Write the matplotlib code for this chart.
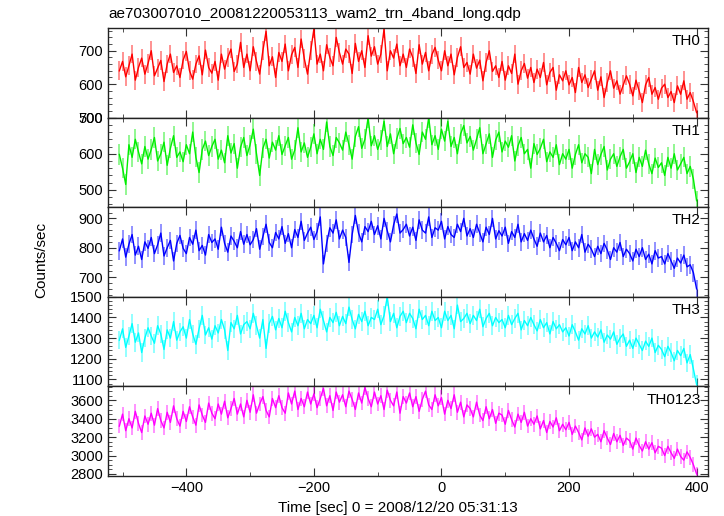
import matplotlib
matplotlib.use("Agg")
import matplotlib.pyplot as plt
from matplotlib.ticker import MultipleLocator
import numpy as np

plt.rcParams['font.family'] = ['Liberation Sans', 'DejaVu Sans']

# light curve, 5 s bins from -505 s to 400 s
time = np.arange(-505, 401, 5)

th0 = [640, 668, 622, 655, 690, 612, 650, 678, 630, 662,
       700, 625, 648, 671, 608, 660, 690, 635, 655, 620,
       672, 698, 640, 615, 660, 685, 628, 702, 650, 633,
       668, 612, 690, 645, 680, 705, 638, 660, 725, 650,
       690, 640, 712, 668, 630, 700, 758, 655, 682, 620,
       695, 668, 720, 640, 688, 710, 650, 735, 676, 630,
       700, 765, 660, 690, 640, 718, 680, 655, 740, 695,
       660, 705, 690, 632, 722, 668, 700, 650, 745, 684,
       712, 660, 690, 765, 640, 700, 678, 720, 655, 690,
       650, 705, 680, 632, 718, 660, 695, 640, 688, 710,
       672, 640, 700, 655, 690, 628, 680, 712, 650, 665,
       630, 690, 648, 672, 610, 665, 700, 638, 655, 620,
       668, 612, 655, 632, 690, 600, 640, 662, 618, 650,
       605, 645, 620, 665, 598, 635, 650, 582, 628, 610,
       640, 598, 620, 575, 650, 605, 628, 590, 615, 640,
       582, 622, 560, 605, 640, 588, 610, 570, 598, 625,
       600, 565, 612, 580, 545, 598, 620, 570, 590, 555,
       588, 600, 560, 578, 545, 595, 570, 610, 555, 575,
       548, 515]

th1 = [598, 560, 515, 625, 590, 640, 605, 572, 620, 585,
       612, 645, 580, 600, 632, 568, 615, 650, 590, 605,
       578, 625, 600, 660, 590, 548, 612, 635, 595, 620,
       640, 585, 610, 575, 650, 602, 628, 560, 618, 645,
       595, 625, 668, 600, 540, 615, 640, 588, 632, 610,
       650, 598, 622, 645, 585, 610, 672, 605, 630, 590,
       618, 655, 600, 640, 612, 688, 620, 595, 645, 630,
       610, 660, 625, 585, 648, 675, 615, 640, 700, 622,
       650, 612, 638, 690, 620, 655, 600, 642, 670, 628,
       645, 618, 680, 630, 598, 660, 640, 700, 625, 650,
       612, 668, 635, 690, 620, 645, 600, 655, 678, 630,
       648, 610, 640, 672, 600, 628, 655, 590, 638, 660,
       605, 635, 618, 650, 580, 622, 645, 600, 612, 560,
       628, 598, 615, 640, 578, 605, 590, 625, 570, 600,
       585, 612, 560, 598, 625, 575, 600, 590, 545, 612,
       570, 598, 620, 555, 585, 600, 565, 592, 612, 560,
       578, 600, 548, 590, 565, 610, 572, 545, 588, 562,
       575, 540, 590, 560, 600, 555, 572, 590, 545, 565,
       530, 470]

th2 = [790, 830, 768, 812, 845, 775, 805, 760, 820, 798,
       835, 780, 810, 850, 772, 800, 825, 755, 815, 842,
       798, 780, 835, 812, 860, 790, 808, 775, 845, 818,
       830, 795, 870, 815, 785, 840, 822, 800, 855, 812,
       845, 810, 828, 865, 795, 838, 880, 818, 800, 852,
       830, 872, 815, 848, 800, 862, 835, 890, 825, 850,
       870, 828, 855, 905, 745, 815, 868, 850, 895, 830,
       860, 835, 750, 845, 910, 850, 820, 872, 855, 890,
       845, 875, 830, 900, 858, 820, 878, 915, 850, 862,
       880, 840, 870, 825, 895, 860, 850, 905, 835, 868,
       860, 890, 830, 872, 845, 835, 880, 855, 900, 840,
       865, 835, 880, 850, 820, 870, 845, 900, 830, 858,
       840, 870, 815, 855, 835, 880, 820, 848, 825, 860,
       830, 805, 850, 820, 842, 800, 835, 815, 790, 828,
       810, 835, 790, 820, 800, 845, 785, 812, 795, 770,
       805, 780, 815, 792, 760, 800, 785, 818, 770, 795,
       780, 755, 795, 770, 800, 760, 778, 745, 790, 765,
       770, 745, 780, 755, 730, 765, 748, 775, 735, 742,
       715, 660]

th3 = [1290, 1345, 1255, 1310, 1370, 1280, 1325, 1230, 1300, 1350,
       1310, 1275, 1360, 1320, 1245, 1340, 1300, 1380, 1290, 1330,
       1355, 1300, 1390, 1320, 1270, 1345, 1410, 1315, 1350, 1295,
       1360, 1325, 1390, 1340, 1240, 1375, 1345, 1410, 1320, 1365,
       1380, 1345, 1420, 1360, 1300, 1390, 1250, 1370, 1405, 1340,
       1395, 1350, 1430, 1375, 1330, 1400, 1360, 1420, 1345, 1390,
       1370, 1410, 1350, 1440, 1385, 1330, 1400, 1375, 1425, 1360,
       1405, 1370, 1450, 1390, 1345, 1415, 1380, 1430, 1360, 1400,
       1390, 1440, 1365, 1410, 1500, 1380, 1420, 1350, 1405, 1430,
       1375, 1420, 1395, 1345, 1440, 1390, 1410, 1360, 1430, 1385,
       1400, 1350, 1430, 1385, 1410, 1345, 1460, 1380, 1395, 1420,
       1370, 1410, 1385, 1440, 1355, 1395, 1420, 1360, 1400, 1375,
       1390, 1350, 1410, 1365, 1395, 1420, 1340, 1385, 1360, 1400,
       1365, 1335, 1390, 1350, 1375, 1320, 1380, 1345, 1365, 1330,
       1350, 1310, 1365, 1330, 1290, 1345, 1320, 1360, 1300, 1330,
       1305, 1340, 1280, 1315, 1295, 1330, 1270, 1300, 1320, 1260,
       1290, 1250, 1300, 1270, 1240, 1285, 1260, 1300, 1230, 1265,
       1245, 1210, 1260, 1230, 1190, 1240, 1215, 1250, 1180, 1220,
       1150, 1075]

th0123 = [3320, 3450, 3270, 3400, 3300, 3480, 3350, 3250, 3430, 3340,
          3460, 3330, 3510, 3380, 3300, 3470, 3360, 3540, 3400, 3320,
          3480, 3370, 3530, 3420, 3330, 3550, 3440, 3360, 3570, 3460,
          3400, 3560, 3450, 3590, 3410, 3510, 3620, 3450, 3560, 3420,
          3600, 3470, 3660, 3460, 3560, 3640, 3490, 3420, 3620, 3520,
          3650, 3520, 3460, 3680, 3560, 3700, 3500, 3620, 3530, 3690,
          3560, 3670, 3520, 3620, 3730, 3540, 3650, 3490, 3690, 3580,
          3660, 3530, 3700, 3610, 3500, 3680, 3570, 3740, 3620, 3530,
          3690, 3560, 3650, 3500, 3710, 3600, 3540, 3690, 3460, 3640,
          3570, 3680, 3530, 3640, 3480, 3610, 3700, 3550, 3500, 3660,
          3540, 3630, 3450, 3600, 3510, 3660, 3470, 3580, 3420, 3550,
          3510, 3420, 3580, 3440, 3380, 3530, 3400, 3500, 3350, 3460,
          3440, 3340, 3490, 3390, 3310, 3450, 3360, 3470, 3320, 3400,
          3340, 3430, 3290, 3380, 3250, 3370, 3310, 3410, 3270, 3340,
          3280, 3360, 3230, 3320, 3250, 3170, 3300, 3210, 3290, 3200,
          3230, 3150, 3270, 3190, 3120, 3240, 3150, 3220, 3110, 3190,
          3160, 3070, 3190, 3110, 3050, 3150, 3070, 3140, 3030, 3100,
          3080, 3000, 3100, 3030, 2970, 3070, 2990, 2950, 3040, 2980,
          2900, 2800]

names = ['TH0', 'TH1', 'TH2', 'TH3', 'TH0123']
errors = [28, 28, 30, 45, 80]
colors = ['#ff0000', '#00ee00', '#0000ff', '#00ffff', '#ff00ff']
ylims = [(500, 768), (452, 700), (633, 938), (1066, 1500), (2778, 3751)]
major = [100, 100, 100, 100, 200]
minor = [20, 20, 20, 20, 50]

fig, axes = plt.subplots(5, 1, figsize=(7.24, 5.16), dpi=100, sharex=True)
fig.subplots_adjust(left=0.149, right=0.978, top=0.9457, bottom=0.0775, hspace=0)

series = [th0, th1, th2, th3, th0123]
for i, ax in enumerate(axes):
    y = np.array(series[i])
    ax.errorbar(time, y, yerr=errors[i], fmt='none', ecolor=colors[i],
                elinewidth=1.2, alpha=0.5, capsize=0)
    ax.plot(time, y, color=colors[i], lw=1.0)
    ax.set_ylim(*ylims[i])
    ax.set_xlim(-523, 418)
    ax.yaxis.set_major_locator(MultipleLocator(major[i]))
    ax.yaxis.set_minor_locator(MultipleLocator(minor[i]))
    ax.xaxis.set_major_locator(MultipleLocator(200))
    ax.xaxis.set_minor_locator(MultipleLocator(100))
    ax.tick_params(which='both', direction='in', top=True, right=True,
                   labelsize=10.5, color='#333333')
    ax.tick_params(which='major', length=6)
    ax.tick_params(which='minor', length=3)
    for s in ax.spines.values():
        s.set_linewidth(1.0)
        s.set_color('#222222')
    ax.text(0.988, 0.93, names[i], transform=ax.transAxes, ha='right',
            va='top', fontsize=11)

fig.text(0.149, 0.973, 'ae703007010_20081220053113_wam2_trn_4band_long.qdp',
         ha='left', va='center', fontsize=11)
fig.text(0.55, 0.016, 'Time [sec] 0 = 2008/12/20 05:31:13', ha='center',
         va='center', fontsize=11)
fig.text(0.057, 0.496, 'Counts/sec', rotation=90, ha='center', va='center',
         fontsize=11)

plt.savefig('out.png', dpi=100)
